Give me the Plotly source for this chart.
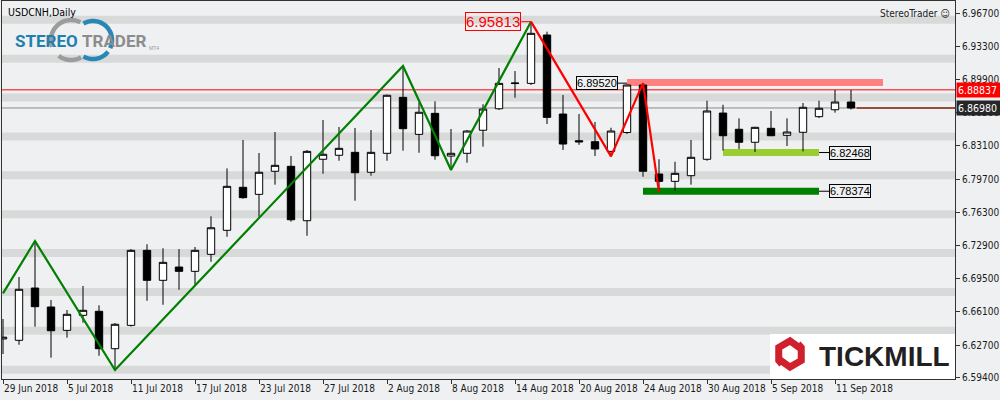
import numpy as np
import pandas as pd
import plotly.graph_objects as go

# ---------------- data ----------------
symbol_title = "USDCNH,Daily"
brand_right = "StereoTrader ☺"
dates = pd.bdate_range("2018-06-29", "2018-09-12")

opens = [6.6334, 6.6320, 6.6855, 6.6661, 6.6422, 6.6576, 6.6617, 6.6234, 6.6473, 6.7241,
         6.6934, 6.7070, 6.7026, 6.7200, 6.7446, 6.7886, 6.7814, 6.8050, 6.8101, 6.7544,
         6.8173, 6.8214, 6.8244, 6.8040, 6.8234, 6.8807, 6.8428, 6.8643, 6.8206, 6.8234,
         6.8470, 6.8690, 6.8948, 6.8950, 6.9445, 6.8636, 6.8363, 6.8353, 6.8254, 6.8447,
         6.8933, 6.8022, 6.7947, 6.8005, 6.8173, 6.8646, 6.8480, 6.8347, 6.8490, 6.8418,
         6.8449, 6.8609, 6.8680, 6.8759]
highs = [6.6538, 6.6968, 6.7336, 6.6732, 6.6630, 6.6876, 6.6678, 6.6497, 6.7254, 6.7303,
         6.7262, 6.7254, 6.7275, 6.7589, 6.8080, 6.8370, 6.8237, 6.8452, 6.8206, 6.8268,
         6.8575, 6.8503, 6.8493, 6.8472, 6.8835, 6.9128, 6.8756, 6.8766, 6.8483, 6.8472,
         6.8736, 6.9107, 6.9076, 6.95813, 6.9479, 6.8831, 6.8636, 6.8554, 6.8496, 6.8938,
         6.8952, 6.8173, 6.8148, 6.8370, 6.8772, 6.8731, 6.8592, 6.8505, 6.8667, 6.8592,
         6.8749, 6.8772, 6.8882, 6.8882]
lows = [6.6180, 6.6275, 6.6459, 6.6142, 6.6347, 6.6500, 6.6162, 6.6016, 6.6460, 6.6725,
        6.6684, 6.6838, 6.6876, 6.7124, 6.7380, 6.7769, 6.7585, 6.7913, 6.7534, 6.7390,
        6.8025, 6.8158, 6.7749, 6.8005, 6.8158, 6.8261, 6.8240, 6.8168, 6.8063, 6.8138,
        6.8302, 6.8677, 6.8803, 6.8933, 6.8534, 6.8268, 6.8321, 6.8206, 6.8203, 6.8431,
        6.7994, 6.78374, 6.7851, 6.7913, 6.8158, 6.8262, 6.8278, 6.8247, 6.8410, 6.8309,
        6.8254, 6.8595, 6.8650, 6.8682]
closes = [6.6352, 6.6842, 6.6664, 6.6418, 6.6586, 6.6627, 6.6234, 6.6484, 6.7241, 6.6934,
          6.7118, 6.7026, 6.7241, 6.7472, 6.7896, 6.7780, 6.8040, 6.8111, 6.7554, 6.8254,
          6.8224, 6.8285, 6.8035, 6.8244, 6.8828, 6.8486, 6.8654, 6.8209, 6.8234, 6.8462,
          6.8687, 6.8950, 6.8953, 6.9462, 6.8602, 6.8329, 6.8351, 6.8278, 6.8462, 6.8933,
          6.8050, 6.7947, 6.8029, 6.8193, 6.8667, 6.8414, 6.8347, 6.8500, 6.8414, 6.8452,
          6.8705, 6.8695, 6.8759, 6.8698]

x_tick_step = 4
y_ticks = [6.967, 6.933, 6.899, 6.865, 6.831, 6.797, 6.763, 6.729, 6.695, 6.661, 6.627, 6.594]
y_range = [6.5924, 6.9793]
x_end_bar = 59.5

green_zz_dates = ["2018-06-29", "2018-07-03", "2018-07-10", "2018-08-03", "2018-08-08", "2018-08-15"]
green_zz_prices = [6.6801, 6.7336, 6.6016, 6.9128, 6.8063, 6.95813]
red_zz_dates = ["2018-08-15", "2018-08-22", "2018-08-24", "2018-08-27"]
red_zz_prices = [6.95813, 6.8203, 6.8952, 6.78374]

peak_date, peak_price = "2018-08-15", 6.95813
res_start, res_end, res_low, res_high, res_label = "2018-08-23", "2018-09-14", 6.8923, 6.8994, 6.89520
sup1_start, sup1_end, sup1_low, sup1_high, sup1_label = "2018-08-31", "2018-09-10", 6.8206, 6.8278, 6.82468
sup2_start, sup2_end, sup2_low, sup2_high, sup2_label = "2018-08-24", "2018-09-10", 6.7810, 6.7882, 6.78374

high_line = 6.88837
bid_line = 6.86980
band_centers = [6.9601, 6.9203, 6.8805, 6.8407, 6.8009, 6.7611, 6.7213, 6.6815, 6.6417, 6.6019]
band_half = 0.0041

# ---------------- helpers ----------------
BG = "#EEF0F2"
BAND = "#D8DAD9"
AX = "#333333"
FONT = "DejaVu Sans Condensed, Liberation Sans, sans-serif"
W, H = 1000, 400
ML, MR, MT, MB = 2, 45, 1, 21
PW, PH = W - ML - MR, H - MT - MB

d0 = dates[0].date()
def bar(d):
    return int(np.busday_count(d0, pd.Timestamp(d).date()))

def px2x(px):
    return (px - ML) / PW

def py2y(py):
    return (H - MB - py) / PH

bars = list(range(len(dates)))

def fmt_date(d):
    return f"{d.day} {d.strftime('%b %Y')}"

tickvals = bars[::x_tick_step]
ticktext = [fmt_date(dates[i]) for i in tickvals]

fig = go.Figure()
fig.add_trace(go.Candlestick(
    x=bars, open=opens, high=highs, low=lows, close=closes,
    increasing=dict(line=dict(color="black", width=1), fillcolor="white"),
    decreasing=dict(line=dict(color="black", width=1), fillcolor="black"),
    whiskerwidth=0, hoverinfo="skip", showlegend=False))

fig.add_trace(go.Scatter(x=[bar(d) for d in green_zz_dates], y=green_zz_prices, mode="lines",
                         line=dict(color="#008000", width=2.2), hoverinfo="skip", showlegend=False))
fig.add_trace(go.Scatter(x=[bar(d) for d in red_zz_dates], y=red_zz_prices, mode="lines",
                         line=dict(color="#FF0000", width=2.2), hoverinfo="skip", showlegend=False))

shapes = []
x_lo = -1 / 16
for c in band_centers:
    shapes.append(dict(type="rect", xref="paper", yref="y", x0=0, x1=1, y0=c - band_half, y1=c + band_half,
                       fillcolor=BAND, line=dict(width=0), layer="below"))
# horizontal lines
shapes.append(dict(type="line", xref="paper", yref="y", x0=0, x1=1, y0=bid_line, y1=bid_line,
                   line=dict(color="#8A8A8A", width=1), layer="below"))
shapes.append(dict(type="line", xref="paper", yref="y", x0=0, x1=1, y0=high_line, y1=high_line,
                   line=dict(color="#FF0000", width=1), layer="below"))
shapes.append(dict(type="line", xref="x", yref="y", x0=bars[-1] + 0.35, x1=x_end_bar, y0=bid_line, y1=bid_line,
                   line=dict(color="#8B2A10", width=1.6), layer="above"))
# zones
for (s, e, lo, hi, col) in [(res_start, res_end, res_low, res_high, "#FF8080"),
                            (sup1_start, sup1_end, sup1_low, sup1_high, "#9ACD32"),
                            (sup2_start, sup2_end, sup2_low, sup2_high, "#008000")]:
    shapes.append(dict(type="rect", xref="x", yref="y", x0=bar(s), x1=bar(e), y0=lo, y1=hi,
                       fillcolor=col, line=dict(width=0), layer="below"))

annotations = []
# peak label
pk = bar(peak_date)
shapes.append(dict(type="line", xref="x", yref="y", x0=pk - 0.61, x1=pk, y0=peak_price, y1=peak_price,
                   line=dict(color="#FF0000", width=1)))
annotations.append(dict(xref="x", yref="y", x=pk - 0.61, y=peak_price, xanchor="right", yanchor="middle",
                        text=f"{peak_price:.5f}", showarrow=False, font=dict(family="Liberation Sans", size=15, color="#FF0000"),
                        bordercolor="#FF0000", borderwidth=1, borderpad=0))
# resistance label
rs = bar(res_start)
shapes.append(dict(type="line", xref="x", yref="y", x0=rs - 0.58, x1=rs, y0=res_label, y1=res_label,
                   line=dict(color="black", width=1)))
annotations.append(dict(xref="x", yref="y", x=rs - 0.58, y=res_label, xanchor="right", yanchor="middle",
                        text=f"{res_label:.5f}", showarrow=False, font=dict(family="Liberation Sans", size=11, color="black"),
                        bordercolor="black", borderwidth=1, borderpad=0, bgcolor=BG))
# support labels
for (e, lo, hi, lab) in [(sup1_end, sup1_low, sup1_high, sup1_label), (sup2_end, sup2_low, sup2_high, sup2_label)]:
    mid = (lo + hi) / 2
    be = bar(e)
    shapes.append(dict(type="line", xref="x", yref="y", x0=be, x1=be + 0.64, y0=mid, y1=mid,
                       line=dict(color="black", width=1)))
    annotations.append(dict(xref="x", yref="y", x=be + 0.64, y=mid, xanchor="left", yanchor="middle",
                            text=f"{lab:.5f}", showarrow=False, font=dict(family="Liberation Sans", size=11, color="black"),
                            bordercolor="black", borderwidth=1, borderpad=0, bgcolor=BG))

# right axis price labels
for (val, col) in [(high_line, "#FF0000"), (bid_line, "#262626")]:
    annotations.append(dict(xref="paper", yref="y", x=1, y=val, xanchor="left", yanchor="middle", xshift=1,
                            text=f"{val:.5f}", showarrow=False, bgcolor=col, width=43, align="left",
                            font=dict(family=FONT, size=10.5, color="white"), borderpad=1))

# title texts
annotations.append(dict(xref="paper", yref="paper", x=px2x(6), y=py2y(12), xanchor="left", yanchor="middle",
                        text=symbol_title, showarrow=False, font=dict(family=FONT, size=10.5, color="black")))
annotations.append(dict(xref="paper", yref="paper", x=px2x(952), y=py2y(13), xanchor="right", yanchor="middle",
                        text=brand_right, showarrow=False, font=dict(family=FONT, size=10, color="#222222")))

# StereoTrader logo arcs
def arc_path(cx, cy, r, a0, a1, n=40):
    angs = np.radians(np.linspace(a0, a1, n))
    xs = cx + r * np.cos(angs)
    ys = cy - r * np.sin(angs)
    return "M" + " L".join(f"{px2x(x):.5f},{py2y(y):.5f}" for x, y in zip(xs, ys))

for (cx, cy, r, a0, a1, col) in [(71, 40, 20, 62, 200, "#9C9C9C"), (71, 40, 20, 232, 300, "#9C9C9C"),
                                 (93, 40, 19, -25, 120, "#2887B6"), (93, 40, 19, 240, 322, "#2887B6")]:
    shapes.append(dict(type="path", xref="paper", yref="paper", path=arc_path(cx, cy, r, a0, a1),
                       line=dict(color=col, width=4.5)))
annotations.append(dict(xref="paper", yref="paper", x=px2x(80), y=py2y(41), xanchor="right", yanchor="middle",
                        text="<b>STEREO</b>", showarrow=False,
                        font=dict(family="Roboto, Liberation Sans", size=17, color="#1F7FAE")))
annotations.append(dict(xref="paper", yref="paper", x=px2x(80), y=py2y(41), xanchor="left", yanchor="middle",
                        text="<b>TRADER</b>", showarrow=False,
                        font=dict(family="Roboto, Liberation Sans", size=17, color="#8C8C8C")))
annotations.append(dict(xref="paper", yref="paper", x=px2x(147), y=py2y(48), xanchor="left", yanchor="middle",
                        text="MT4", showarrow=False, font=dict(family="Liberation Sans", size=5, color="#999999")))

# Tickmill logo
shapes.append(dict(type="rect", xref="paper", yref="paper", x0=px2x(770), x1=px2x(955), y0=py2y(379), y1=py2y(334),
                   fillcolor="white", line=dict(width=0)))
def hex_path(cx, cy, r, angs):
    pts = [(cx + r * np.cos(np.radians(a)), cy - r * np.sin(np.radians(a))) for a in angs]
    return "M" + " L".join(f"{px2x(x):.5f},{py2y(y):.5f}" for x, y in pts)
shapes.append(dict(type="path", xref="paper", yref="paper", path=hex_path(790, 354, 13, [20, 90, 150, 210, 232]),
                   line=dict(color="#D0202E", width=7)))
shapes.append(dict(type="path", xref="paper", yref="paper", path=hex_path(790, 354, 13, [200, 270, 330, 30, 52]),
                   line=dict(color="#D0202E", width=7)))
annotations.append(dict(xref="paper", yref="paper", x=px2x(817), y=py2y(356), xanchor="left", yanchor="middle",
                        text="<b>TICKMILL</b>", showarrow=False,
                        font=dict(family="Liberation Sans, Arial, sans-serif", size=28, color="#231F20")))

tickfont = dict(family=FONT, size=10, color="#1A1A1A")
fig.update_layout(
    template="none",
    width=W, height=H,
    margin=dict(l=ML, r=MR, t=MT, b=MB),
    paper_bgcolor=BG, plot_bgcolor=BG,
    showlegend=False,
    boxgap=0.34,
    shapes=shapes,
    annotations=annotations,
    xaxis=dict(range=[x_lo, x_end_bar], tickmode="array", tickvals=tickvals, ticktext=ticktext,
               ticks="outside", ticklen=4, tickcolor=AX, tickwidth=1, ticklabelposition="outside right",
               tickangle=0,
               showgrid=False, zeroline=False, showline=True, linecolor=AX, linewidth=1, mirror=True,
               tickfont=tickfont, rangeslider=dict(visible=False), fixedrange=True, automargin=False),
    yaxis=dict(side="right", range=y_range, tickmode="array", tickvals=y_ticks,
               ticktext=[f"{v:.5f}" for v in y_ticks],
               ticks="outside", ticklen=4, tickcolor=AX, tickwidth=1,
               showgrid=False, zeroline=False, showline=True, linecolor=AX, linewidth=1, mirror=True,
               tickfont=tickfont, fixedrange=True, automargin=False),
)

fig.write_html("out.html", config={"displayModeBar": False},
               post_script="document.body.style.margin='0px';document.body.style.background='" + BG + "';")
